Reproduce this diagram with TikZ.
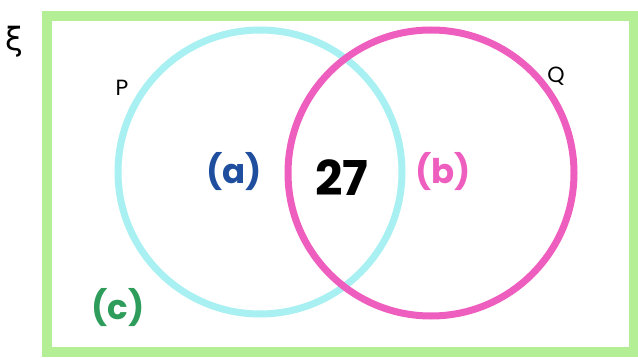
\documentclass[tikz,border=0pt]{standalone}
\usepackage{xcolor}
\usepackage{fontspec}
\setmainfont{Poppins}
\newfontfamily\greekfont{DejaVu Sans}
\usepackage{tikz}

\definecolor{framegreen}{HTML}{B5EF95}
\definecolor{setcyan}{HTML}{A8F0F2}
\definecolor{setpink}{HTML}{EE5EBE}
\definecolor{labelblue}{HTML}{1F4E9E}
\definecolor{labelgreen}{HTML}{2E9C5A}

\tikzset{
  region/.style={font=\fontsize{17}{17}\selectfont\bfseries},
  setname/.style={font=\fontsize{11}{11}\selectfont}
}

\begin{document}
\begin{tikzpicture}[x=0.5pt, y=-0.5pt]
    \useasboundingbox (0,0) rectangle (638,358);

    % Universal set
    \draw[framegreen, line width=5pt] (47,16) rectangle (634,352);
    \node[font=\greekfont\fontsize{16}{16}\selectfont] (xi) at (14,42) {ξ};

    % Sets P and Q
    \draw[setcyan, line width=3.5pt] (260,172) circle (142);
    \draw[setpink, line width=3.5pt] (431,173) circle (143);
    \node[setname] (P) at (122,88) {P};
    \node[setname] (Q) at (556,76) {Q};

    % Regions
    \node[region, labelblue] (a) at (234,172) {(a)};
    \node[font=\fontsize{24}{24}\selectfont\bfseries] (n) at (342,178) {27};
    \node[region, setpink] (b) at (443,172) {(b)};
    \node[region, labelgreen] (c) at (118,308) {(c)};
\end{tikzpicture}
\end{document}
